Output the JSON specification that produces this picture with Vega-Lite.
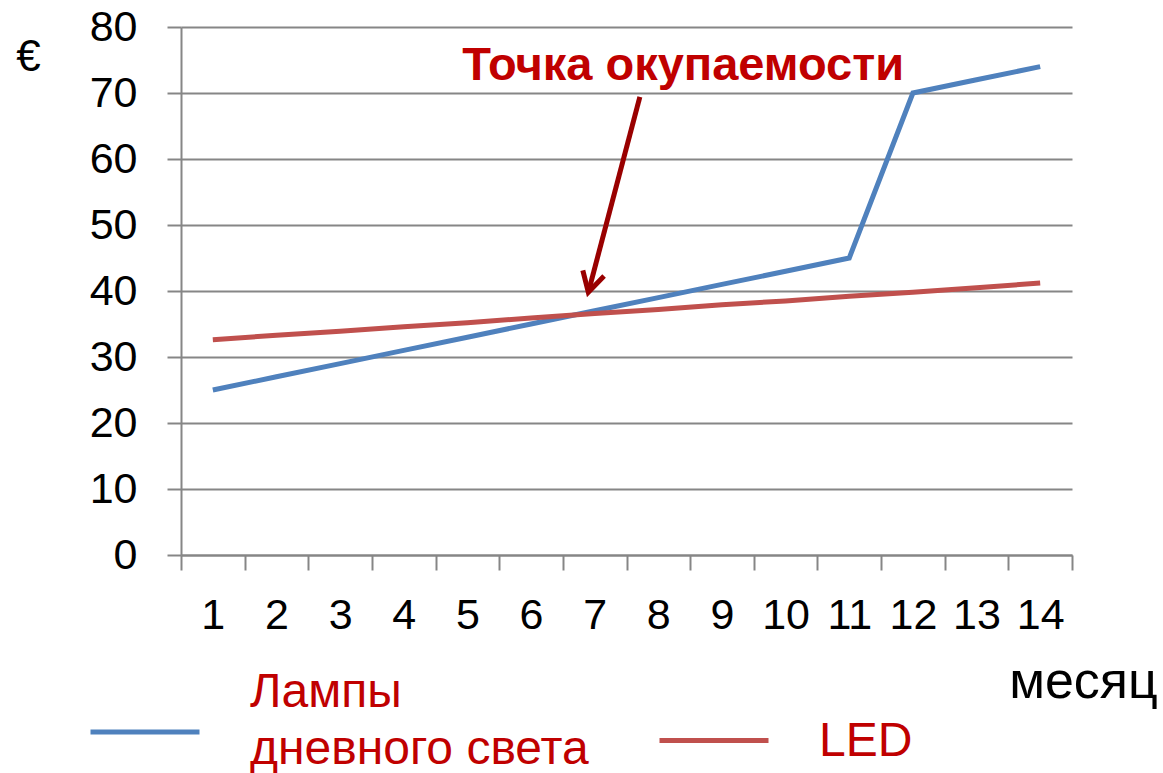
{
  "$schema": "https://vega.github.io/schema/vega-lite/v6.json",
  "autosize": {"type": "none"},
  "padding": {"left": 181, "top": 27, "right": 91, "bottom": 218},
  "width": 891,
  "height": 528,
  "background": "white",
  "config": {"view": {"stroke": null}, "font": "Liberation Sans"},
  "datasets": {
    "costs": [
      {"month": 1, "series": "Лампы дневного света", "cost": 25},
      {"month": 2, "series": "Лампы дневного света", "cost": 27},
      {"month": 3, "series": "Лампы дневного света", "cost": 29},
      {"month": 4, "series": "Лампы дневного света", "cost": 31},
      {"month": 5, "series": "Лампы дневного света", "cost": 33},
      {"month": 6, "series": "Лампы дневного света", "cost": 35},
      {"month": 7, "series": "Лампы дневного света", "cost": 37},
      {"month": 8, "series": "Лампы дневного света", "cost": 39},
      {"month": 9, "series": "Лампы дневного света", "cost": 41},
      {"month": 10, "series": "Лампы дневного света", "cost": 43},
      {"month": 11, "series": "Лампы дневного света", "cost": 45},
      {"month": 12, "series": "Лампы дневного света", "cost": 70},
      {"month": 13, "series": "Лампы дневного света", "cost": 72},
      {"month": 14, "series": "Лампы дневного света", "cost": 74},
      {"month": 1, "series": "LED", "cost": 32.6},
      {"month": 2, "series": "LED", "cost": 33.3},
      {"month": 3, "series": "LED", "cost": 33.9},
      {"month": 4, "series": "LED", "cost": 34.6},
      {"month": 5, "series": "LED", "cost": 35.2},
      {"month": 6, "series": "LED", "cost": 35.9},
      {"month": 7, "series": "LED", "cost": 36.6},
      {"month": 8, "series": "LED", "cost": 37.2},
      {"month": 9, "series": "LED", "cost": 37.9},
      {"month": 10, "series": "LED", "cost": 38.5},
      {"month": 11, "series": "LED", "cost": 39.2},
      {"month": 12, "series": "LED", "cost": 39.8},
      {"month": 13, "series": "LED", "cost": 40.5},
      {"month": 14, "series": "LED", "cost": 41.2}
    ],
    "arrow": [
      {"x0": 7.71, "y0": 69.4, "x1": 6.9, "y1": 39.8}
    ],
    "note": [
      {"ax": 8.39, "ay": 72, "label": "Точка окупаемости"}
    ]
  },
  "resolve": {"scale": {"x": "independent"}},
  "layer": [
    {
      "data": {"name": "costs"},
      "mark": {"type": "line", "strokeWidth": 5, "clip": false},
      "encoding": {
        "x": {
          "field": "month", "type": "ordinal",
          "scale": {"type": "band", "paddingInner": 0, "paddingOuter": 0},
          "axis": {
            "title": "месяц", "titleFontSize": 52, "titleFontWeight": "normal", "titleColor": "black",
            "titleX": 902, "titleY": 142, "titleAlign": "center", "titleBaseline": "alphabetic",
            "labelAngle": 0, "labelFontSize": 43, "labelColor": "black", "labelPadding": 24,
            "tickBand": "extent", "tickSize": 15, "tickColor": "#868686", "tickWidth": 2,
            "domainColor": "#868686", "domainWidth": 2, "grid": false, "labelFont": "Liberation Sans"
          }
        },
        "y": {
          "field": "cost", "type": "quantitative",
          "scale": {"domain": [0, 80], "nice": false},
          "axis": {
            "title": "€", "titleAngle": 0, "titleFontSize": 44, "titleFontWeight": "normal", "titleColor": "black",
            "titleX": -153, "titleY": 43, "titleAlign": "center", "titleBaseline": "alphabetic",
            "values": [0, 10, 20, 30, 40, 50, 60, 70, 80],
            "labelFontSize": 43, "labelColor": "black", "labelPadding": 30,
            "tickSize": 14, "tickColor": "#868686", "tickWidth": 2,
            "domainColor": "#868686", "domainWidth": 2,
            "grid": true, "gridColor": "#868686", "gridWidth": 2, "labelFont": "Liberation Sans"
          }
        },
        "color": {
          "field": "series", "type": "nominal",
          "scale": {"domain": ["Лампы дневного света", "LED"], "range": ["#4f81bd", "#c0504d"]},
          "legend": {
            "title": null, "orient": "none", "direction": "horizontal",
            "legendX": -93, "legendY": 648,
            "symbolType": "stroke", "symbolSize": 11881, "symbolStrokeWidth": 5,
            "labelFontSize": 48, "labelColor": "#c00000", "labelFont": "Liberation Sans",
            "labelOffset": 48, "columnPadding": 60, "labelLimit": 600,
            "labelExpr": "datum.value == 'LED' ? 'LED' : ['Лампы', 'дневного света']",
            "encode": {
              "labels": {
                "update": {
                  "lineHeight": {"value": 57},
                  "dy": {"signal": "datum.value == 'LED' ? 1 : -39"}
                }
              }
            }
          }
        }
      }
    },
    {
      "data": {"name": "arrow"},
      "mark": {"type": "rule", "color": "#990000", "strokeWidth": 5, "clip": false},
      "encoding": {
        "x": {"field": "x0", "type": "quantitative", "scale": {"domain": [0.5, 14.5], "nice": false, "zero": false}, "axis": null},
        "x2": {"field": "x1"},
        "y": {"field": "y0", "type": "quantitative"},
        "y2": {"field": "y1"}
      }
    },
    {
      "data": {"name": "arrow"},
      "mark": {"type": "point", "shape": "M-0.5,0.9L0,0L0.5,0.9", "filled": false, "color": "#990000", "strokeWidth": 5, "size": 1936, "angle": 195, "opacity": 1, "clip": false},
      "encoding": {
        "x": {"field": "x1", "type": "quantitative", "scale": {"domain": [0.5, 14.5], "nice": false, "zero": false}, "axis": null},
        "y": {"field": "y1", "type": "quantitative"}
      }
    },
    {
      "data": {"name": "note"},
      "mark": {"type": "text", "font": "Liberation Sans", "fontWeight": "bold", "fontSize": 47, "color": "#c00000", "align": "center", "baseline": "alphabetic", "clip": false},
      "encoding": {
        "x": {"field": "ax", "type": "quantitative", "scale": {"domain": [0.5, 14.5], "nice": false, "zero": false}, "axis": null},
        "y": {"field": "ay", "type": "quantitative"},
        "text": {"field": "label"}
      }
    }
  ]
}
